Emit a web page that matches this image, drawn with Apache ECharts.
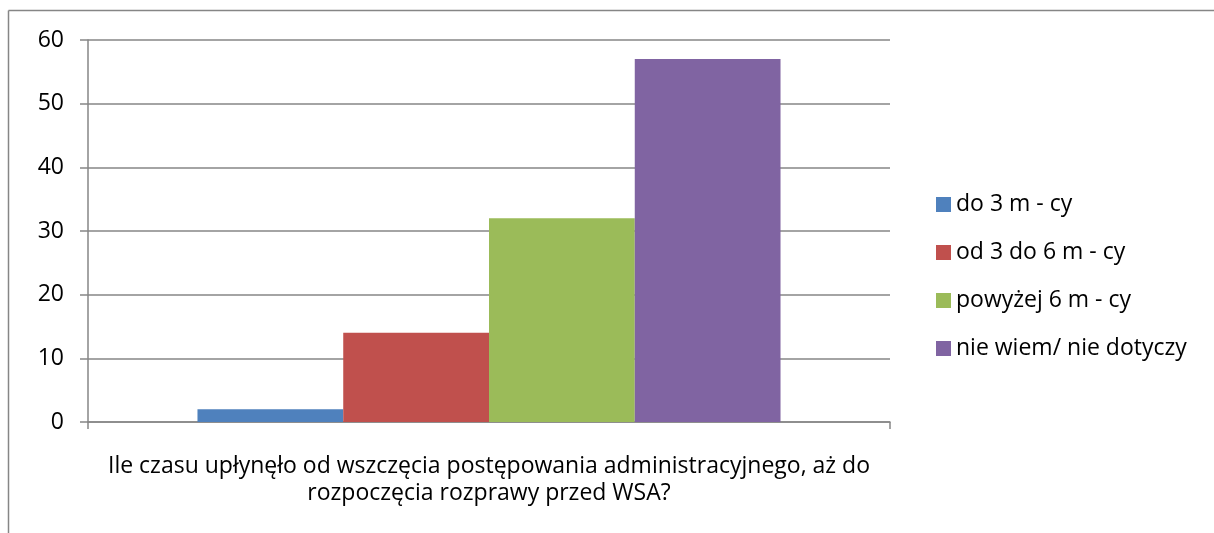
<!DOCTYPE html>
<html>
<head>
<meta charset="utf-8">
<script src="https://cdn.jsdelivr.net/npm/echarts@6/dist/echarts.min.js"></script>
<style>
  html, body { margin: 0; padding: 0; background: #fff; }
  #chart { width: 1214px; height: 533px; }
</style>
</head>
<body>
<div id="chart"></div>
<script>
// Survey question and answer groups
const categories = ['Ile czasu upłynęło od wszczęcia postępowania administracyjnego, aż do\nrozpoczęcia rozprawy przed WSA?'];
const seriesNames = ['do 3 m - cy', 'od 3 do 6 m - cy', 'powyżej 6 m - cy', 'nie wiem/ nie dotyczy'];
const seriesValues = [[2], [14], [32], [57]];
const seriesColors = ['#4F81BD', '#C0504D', '#9BBB59', '#8064A2'];
const yTicks = { min: 0, max: 60, interval: 10 };

const FONT = 'Open Sans';
const GRAY = '#868686';

const chart = echarts.init(document.getElementById('chart'), null, { renderer: 'canvas' });

chart.setOption({
  animation: false,
  backgroundColor: '#ffffff',
  textStyle: { fontFamily: FONT },
  graphic: [
    { type: 'line', shape: { x1: 8.5, y1: 10.5, x2: 1214, y2: 10.5 }, style: { stroke: GRAY, lineWidth: 1.5 } },
    { type: 'line', shape: { x1: 8.5, y1: 10.5, x2: 8.5, y2: 533 }, style: { stroke: GRAY, lineWidth: 1.5 } }
  ],
  grid: { left: 88, top: 40, width: 802, height: 382, containLabel: false },
  legend: {
    orient: 'vertical',
    left: 931,
    top: 188,
    icon: 'rect',
    itemWidth: 15,
    itemHeight: 15,
    itemGap: 25,
    textStyle: { fontSize: 23, color: '#000', fontFamily: FONT },
    data: seriesNames
  },
  xAxis: {
    type: 'category',
    data: categories,
    axisLine: { lineStyle: { color: GRAY, width: 1.5 } },
    axisTick: { show: true, length: 7, lineStyle: { color: GRAY, width: 1.5 } },
    axisLabel: {
      color: '#000', fontSize: 23, fontFamily: FONT, margin: 31,
      lineHeight: 27, align: 'center'
    }
  },
  yAxis: {
    type: 'value',
    min: yTicks.min, max: yTicks.max, interval: yTicks.interval,
    axisLine: { show: true, lineStyle: { color: GRAY, width: 1.5 } },
    axisTick: { show: true, length: 8, lineStyle: { color: GRAY, width: 1.5 } },
    splitLine: { lineStyle: { color: GRAY, width: 1.5 } },
    axisLabel: { color: '#000', fontSize: 23, fontFamily: FONT, margin: 24 }
  },
  series: seriesNames.map((name, i) => ({
    name,
    type: 'bar',
    data: seriesValues[i],
    itemStyle: { color: seriesColors[i] },
    barGap: '0%',
    barCategoryGap: '27.3%'
  }))
});
</script>
</body>
</html>
